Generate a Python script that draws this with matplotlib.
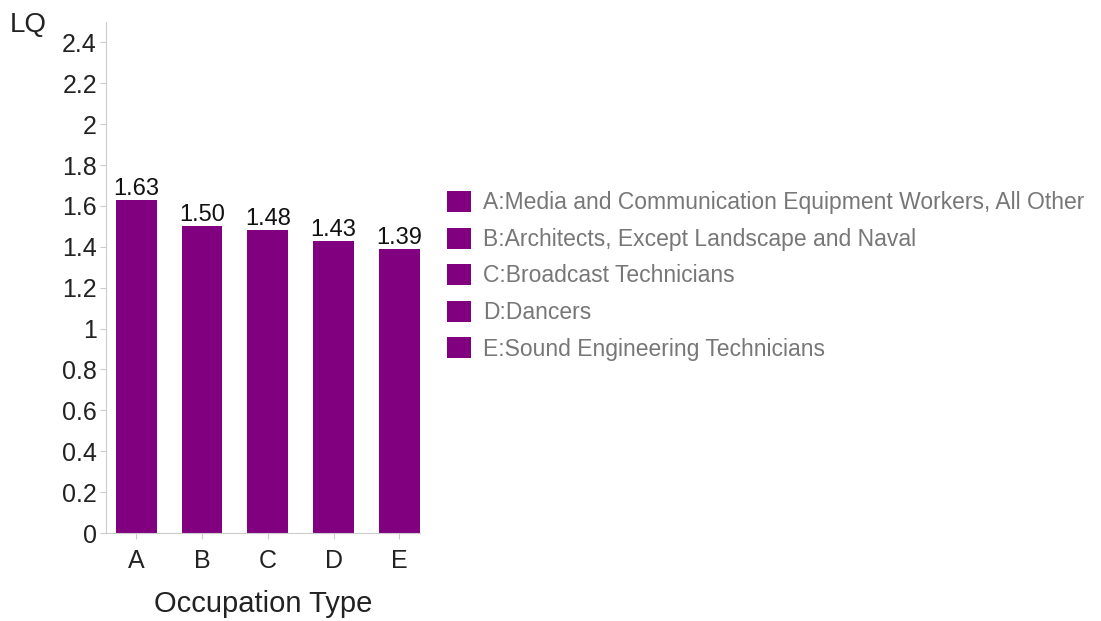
import numpy as np
import matplotlib.pyplot as plt
from matplotlib.patches import Patch

plt.rcParams['font.family'] = ['Liberation Sans', 'DejaVu Sans']

codes = ["A", "B", "C", "D", "E"]
lq = [1.63, 1.50, 1.48, 1.43, 1.39]
names = ["Media and Communication Equipment Workers, All Other",
         "Architects, Except Landscape and Naval",
         "Broadcast Technicians",
         "Dancers",
         "Sound Engineering Technicians"]
yticks = [0, 0.2, 0.4, 0.6, 0.8, 1, 1.2, 1.4, 1.6, 1.8, 2, 2.2, 2.4]

color = "#800080"
fig = plt.figure(figsize=(11.01, 6.21), dpi=100)
ax = fig.add_axes([0.0963, 0.1417, 0.285, 0.823])

x = np.arange(len(codes))
bars = ax.bar(x, lq, width=0.62, color=color)
for xi, v in zip(x, lq):
    ax.text(xi, v, "{:.2f}".format(v), ha="center", va="bottom", fontsize=17, color="#111111")

ax.set_xlim(-0.46, 4.31)
ax.set_ylim(0, 2.5)
ax.set_xticks(x)
ax.set_xticklabels(codes)
ax.set_yticks(yticks)
ax.set_yticklabels(["{:g}".format(t) for t in yticks])
ax.tick_params(labelsize=18, colors="#222222", length=4.5)
ax.tick_params(color="#cccccc")
ax.tick_params(axis="x", pad=7)
ax.tick_params(axis="y", pad=2)
for s in ["top", "right"]:
    ax.spines[s].set_visible(False)
for s in ["left", "bottom"]:
    ax.spines[s].set_color("#cccccc")

ax.set_xlabel("Occupation Type", fontsize=21, color="#222222", labelpad=12)
fig.text(0.009, 0.96, "LQ", fontsize=20, color="#222222", va="center")

handles = [Patch(facecolor=color) for _ in codes]
labels = ["{}:{}".format(c, n) for c, n in zip(codes, names)]
fig.legend(handles, labels, loc="upper left", bbox_to_anchor=(0.406, 0.6924),
           frameon=False, fontsize=16.5, labelcolor="#777777",
           borderpad=0, borderaxespad=0,
           handlelength=1.05, handleheight=1.05, handletextpad=0.52, labelspacing=0.57)

fig.savefig("out.png")
